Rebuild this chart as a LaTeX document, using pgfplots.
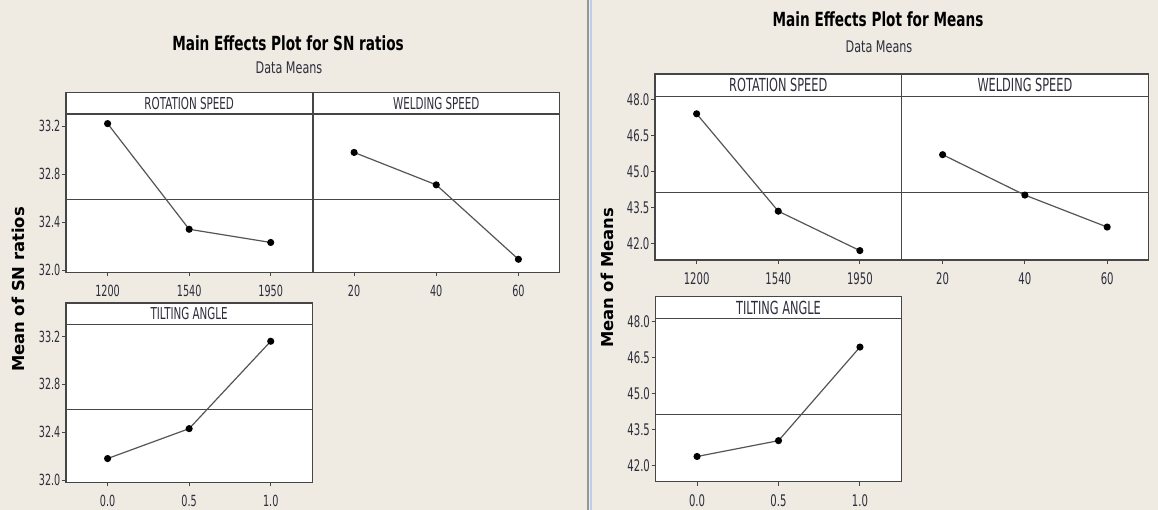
\documentclass[border=0pt]{standalone}
\usepackage{pgfplots}
\pgfplotsset{compat=1.18}
\usepackage{fontspec}
\setmainfont{DejaVu Sans}[FakeStretch=0.7]
\newfontfamily\ylabfont{DejaVu Sans}
\newfontfamily\tickfont{DejaVu Sans}[FakeStretch=0.63]
\definecolor{bg}{RGB}{239,235,227}
\definecolor{frameC}{RGB}{70,70,70}
\definecolor{lineC}{RGB}{85,85,85}
\definecolor{txtC}{RGB}{45,45,60}
\definecolor{sepA}{RGB}{150,150,150}
\definecolor{sepB}{RGB}{190,205,235}

\pgfplotsset{
  panel/.style={
    scale only axis, anchor=south west,
    axis background/.style={fill=white},
    axis line style={draw=frameC, line width=0.9pt},
    tick align=outside, major tick length=3pt,
    tick style={draw=frameC, line width=0.7pt},
    xtick pos=bottom, ytick pos=left,
    /pgf/number format/assume math mode=true,
    tick label style={text=txtC},
    xticklabel style={yshift=-3pt},
    yticklabel style={inner xsep=1pt},
  },
  panelL/.style={panel, tick label style={font=\tickfont\fontsize{11.5}{13}\selectfont},
    ymin=31.98, ymax=33.30, ytick={32.0,32.4,32.8,33.2},
    yticklabel style={/pgf/number format/.cd, fixed, fixed zerofill, precision=1}},
  panelR/.style={panel, tick label style={font=\tickfont\fontsize{12}{14}\selectfont},
    ymin=41.32, ymax=48.12, ytick={42.0,43.5,45.0,46.5,48.0},
    yticklabel style={/pgf/number format/.cd, fixed, fixed zerofill, precision=1}},
  strip/.style n args={3}{
    after end axis/.append code={
      \draw[frameC, line width=0.9pt, fill=white] (rel axis cs:0,1) rectangle ([yshift=#2]rel axis cs:1,1);
      \node[font=#3, text=txtC] at ([yshift=#2/2]rel axis cs:0.5,1) {#1};
    }
  },
  meanline/.style={draw=frameC, line width=0.8pt, forget plot},
  dataline/.style={draw=lineC, line width=0.9pt, mark=*, mark size=2.2pt,
    mark options={draw=black, fill=black}},
}

\begin{document}
\begin{tikzpicture}
\fill[bg] (0,0) rectangle (868.5pt,382.5pt);
\useasboundingbox (0,0) rectangle (868.5pt,382.5pt);
\fill[sepA] (440.2pt,0) rectangle (441.6pt,382.5pt);
\fill[sepB] (442.2pt,0) rectangle (443.8pt,382.5pt);

% ---------- Left figure: SN ratios ----------
\node[font=\bfseries\fontsize{14.6}{16}\selectfont, text=black] at (216pt,350.25pt) {Main Effects Plot for SN ratios};
\node[font=\fontsize{12}{14}\selectfont, text=txtC] at (216.75pt,331.5pt) {Data Means};
\node[rotate=90, font=\ylabfont\bfseries\fontsize{12.3}{14}\selectfont, text=black] at (13.5pt,165.4pt) {Mean of SN ratios};

\begin{axis}[panelL, at={(49.5pt,178.125pt)}, width=184.75pt, height=118.875pt,
  xmin=0.49, xmax=3.51, xtick={1,2,3}, xticklabels={1200,1540,1950},
  strip={ROTATION SPEED}{16.125pt}{\tickfont\fontsize{12.3}{14}\selectfont}]
\addplot[meanline] coordinates {(0.49,32.59) (3.51,32.59)};
\addplot[dataline] coordinates {(1,33.22) (2,32.34) (3,32.23)};
\end{axis}

\begin{axis}[panelL, at={(234.75pt,178.125pt)}, width=184.875pt, height=118.875pt,
  xmin=10, xmax=70, xtick={20,40,60}, ytick=\empty,
  strip={WELDING SPEED}{16.125pt}{\tickfont\fontsize{12.3}{14}\selectfont}]
\addplot[meanline] coordinates {(10,32.59) (70,32.59)};
\addplot[dataline] coordinates {(20,32.98) (40,32.71) (60,32.09)};
\end{axis}

\begin{axis}[panelL, at={(49.5pt,20.625pt)}, width=184.75pt, height=118.5pt,
  xmin=-0.255, xmax=1.255, xtick={0,0.5,1},
  xticklabel style={/pgf/number format/.cd, fixed, fixed zerofill, precision=1},
  strip={TILTING ANGLE}{16.125pt}{\tickfont\fontsize{12.3}{14}\selectfont}]
\addplot[meanline] coordinates {(-0.255,32.59) (1.255,32.59)};
\addplot[dataline] coordinates {(0,32.18) (0.5,32.43) (1,33.16)};
\end{axis}

% ---------- Right figure: Means ----------
\node[font=\bfseries\fontsize{14.6}{16}\selectfont, text=black] at (658.5pt,368.25pt) {Main Effects Plot for Means};
\node[font=\fontsize{12}{14}\selectfont, text=txtC] at (659.25pt,347.25pt) {Data Means};
\node[rotate=90, font=\ylabfont\bfseries\fontsize{12.3}{14}\selectfont, text=black] at (455.25pt,174pt) {Mean of Means};

\begin{axis}[panelR, at={(491.25pt,187.5pt)}, width=184.875pt, height=122.625pt,
  xmin=0.49, xmax=3.51, xtick={1,2,3}, xticklabels={1200,1540,1950},
  strip={ROTATION SPEED}{16.875pt}{\tickfont\fontsize{13.5}{15}\selectfont}]
\addplot[meanline] coordinates {(0.49,44.13) (3.51,44.13)};
\addplot[dataline] coordinates {(1,47.40) (2,43.35) (3,41.71)};
\end{axis}

\begin{axis}[panelR, at={(676.125pt,187.5pt)}, width=185.1pt, height=122.625pt,
  xmin=10, xmax=70, xtick={20,40,60}, ytick=\empty,
  strip={WELDING SPEED}{16.875pt}{\tickfont\fontsize{13.5}{15}\selectfont}]
\addplot[meanline] coordinates {(10,44.13) (70,44.13)};
\addplot[dataline] coordinates {(20,45.70) (40,44.02) (60,42.69)};
\end{axis}

\begin{axis}[panelR, at={(491.625pt,21.225pt)}, width=184.5pt, height=122.4pt,
  xmin=-0.255, xmax=1.255, xtick={0,0.5,1},
  xticklabel style={/pgf/number format/.cd, fixed, fixed zerofill, precision=1},
  strip={TILTING ANGLE}{16.35pt}{\tickfont\fontsize{13.5}{15}\selectfont}]
\addplot[meanline] coordinates {(-0.255,44.13) (1.255,44.13)};
\addplot[dataline] coordinates {(0,42.37) (0.5,43.03) (1,46.93)};
\end{axis}
\end{tikzpicture}
\end{document}
